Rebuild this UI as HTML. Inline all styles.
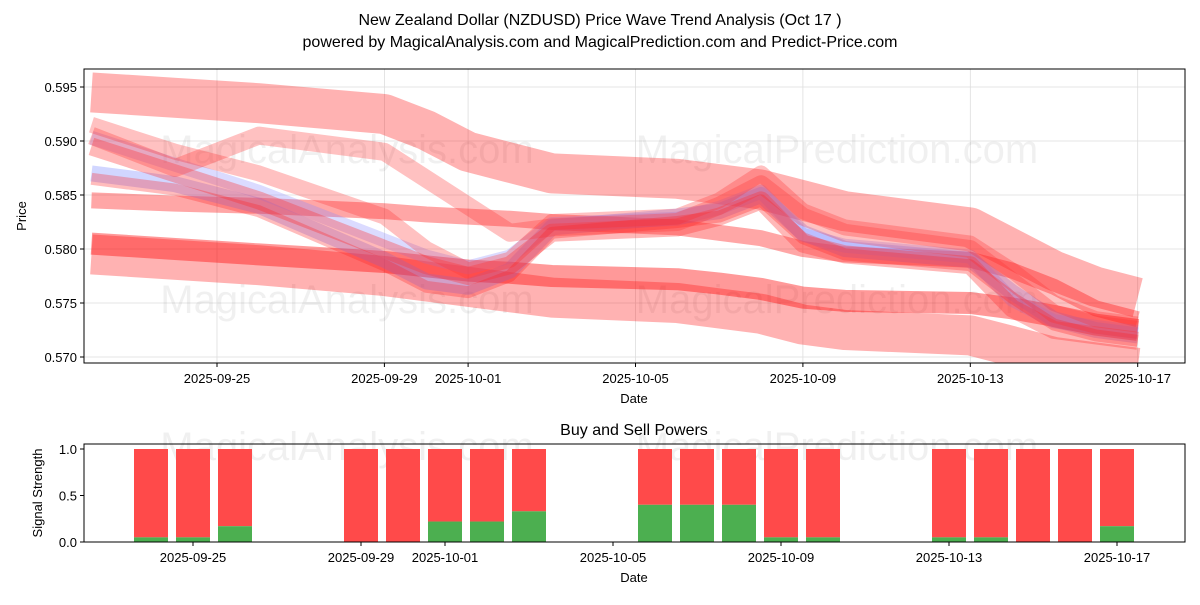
<!DOCTYPE html>
<html><head><meta charset="utf-8"><style>
body{margin:0;background:#fff;font-family:"Liberation Sans",sans-serif;}
svg text{font-family:"Liberation Sans",sans-serif;}
</style></head><body>
<svg id="c" width="1200" height="600" xmlns="http://www.w3.org/2000/svg">
<text x="600" y="25" text-anchor="middle" font-size="16">New Zealand Dollar (NZDUSD) Price Wave Trend Analysis (Oct 17 )</text>
<text x="600" y="47" text-anchor="middle" font-size="16">powered by MagicalAnalysis.com and MagicalPrediction.com and Predict-Price.com</text>
<g id="topPanel"></g>
<g id="botPanel"></g>
</svg>
<script>
const xTickLabels=["2025-09-25","2025-09-29","2025-10-01","2025-10-05","2025-10-09","2025-10-13","2025-10-17"];
const yTickVals=[0.570,0.575,0.580,0.585,0.590,0.595];
const waveDates=["2025-09-22","2025-09-24","2025-09-26","2025-09-29","2025-09-30","2025-10-01","2025-10-02","2025-10-03","2025-10-06","2025-10-07","2025-10-08","2025-10-09","2025-10-10","2025-10-13","2025-10-14","2025-10-15","2025-10-16","2025-10-17"];
const bandTop=[0.5945,0.5940,0.5935,0.5925,0.5910,0.5890,0.5880,0.5870,0.5865,0.5860,0.5855,0.5845,0.5835,0.5820,0.5800,0.5780,0.5765,0.5755];
const bandLow=[0.5795,0.5790,0.5785,0.5775,0.5770,0.5765,0.5760,0.5755,0.5750,0.5745,0.5740,0.5730,0.5725,0.5720,0.5710,0.5700,0.5695,0.5690];
const bandMid=[0.5845,0.5842,0.5840,0.5835,0.5832,0.5830,0.5828,0.5825,0.5820,0.5815,0.5810,0.5800,0.5795,0.5790,0.5780,0.5765,0.5745,0.5735];
const bandMid2=[0.5805,0.5800,0.5795,0.5788,0.5784,0.5780,0.5778,0.5775,0.5772,0.5768,0.5763,0.5755,0.5752,0.5750,0.5745,0.5738,0.5730,0.5725];
const waveA=[0.5895,0.5870,0.5845,0.5800,0.5785,0.5775,0.5785,0.5815,0.5820,0.5830,0.5845,0.5805,0.5795,0.5785,0.5745,0.5725,0.5720,0.5715];
const waveB=[0.5870,0.5860,0.5840,0.5790,0.5770,0.5765,0.5780,0.5820,0.5830,0.5835,0.5850,0.5815,0.5800,0.5790,0.5760,0.5735,0.5725,0.5720];
const waveC=[0.5905,0.5875,0.5905,0.5890,0.5865,0.5840,0.5815,0.5820,0.5825,0.5840,0.5860,0.5830,0.5815,0.5800,0.5770,0.5740,0.5730,0.5725];
const waveD=[0.5915,0.5890,0.5870,0.5830,0.5800,0.5780,0.5790,0.5825,0.5830,0.5845,0.5870,0.5835,0.5820,0.5805,0.5780,0.5750,0.5735,0.5730];
const barDates=["2025-09-24","2025-09-25","2025-09-26","2025-09-29","2025-09-30","2025-10-01","2025-10-02","2025-10-03","2025-10-06","2025-10-07","2025-10-08","2025-10-09","2025-10-10","2025-10-13","2025-10-14","2025-10-15","2025-10-16","2025-10-17"];
const buyPower=[0.05,0.05,0.17,0,0,0.22,0.22,0.33,0.4,0.4,0.4,0.05,0.05,0.05,0.05,0,0,0.17];
const NS="http://www.w3.org/2000/svg";
function el(t,a,p){const e=document.createElementNS(NS,t);for(const k in a)e.setAttribute(k,a[k]);p.appendChild(e);return e;}
const day=d=>Date.UTC(+d.slice(0,4),+d.slice(5,7)-1,+d.slice(8,10))/864e5;
const d0=day("2025-09-25");
const xTop=d=>217+(day(d)-d0)*41.85;
const yTop=v=>357-(v-0.570)/0.005*54;
const xBot=d=>193+(day(d)-d0)*42;
const yBot=v=>542-v*93;
const topG=document.getElementById('topPanel'),botG=document.getElementById('botPanel');
el('rect',{x:84,y:69,width:1101,height:294,fill:'#fff'},topG);
const cp=el('clipPath',{id:'cp'},topG);el('rect',{x:84,y:69,width:1101,height:294},cp);
xTickLabels.forEach(t=>{const x=xTop(t);
 let g=el('line',{x1:x,x2:x,y1:69,y2:363,stroke:'#ddd','stroke-width':0.8},topG);
 
 
 el('line',{x1:x,x2:x,y1:363,y2:367,stroke:'#000'},topG);
 let tx=el('text',{x:x,y:383,'text-anchor':'middle','font-size':13},topG);tx.textContent=t;
 
 });
yTickVals.forEach(v=>{const y=yTop(v);
 el('line',{x1:84,x2:1185,y1:y,y2:y,stroke:'#ddd','stroke-width':0.8},topG);
 el('line',{x1:80,x2:84,y1:y,y2:y,stroke:'#000'},topG);
 let tx=el('text',{x:77,y:y+5,'text-anchor':'end','font-size':13},topG);tx.textContent=v.toFixed(3);
 
 });
[[347,163,'MagicalAnalysis.com'],[837,163,'MagicalPrediction.com'],[347,313,'MagicalAnalysis.com'],[837,313,'MagicalPrediction.com']].forEach(w=>{
 const t=el('text',{x:w[0],y:w[1],'text-anchor':'middle','font-size':40,fill:'#000','fill-opacity':0.06},topG);t.textContent=w[2];
 
 });
const marks=el('g',{'clip-path':'url(#cp)'},topG);
function band(vals,w,col,op,name,off){
 const pts=waveDates.map((d,i)=>xTop(d)+','+yTop(vals[i]+(off||0))).join(' ');
 const p=el('polyline',{points:pts,fill:'none',stroke:col,'stroke-width':w,'stroke-opacity':op,'stroke-linejoin':'round'},marks);
 
 }
band(bandTop,40,'#ff0000',0.3,'upper-band');
band(bandLow,40,'#ff0000',0.3,'lower-band');
band(bandMid,16,'#ff0000',0.35,'mid-band');
band(bandMid2,22,'#ff0000',0.4,'mid-band-2');
band(waveB,16,'#6677ff',0.3,'wave-blue');
band(waveA,14,'#8888ff',0.3,'wave-blue-2',0.0008);
band(waveC,18,'#ff3333',0.3,'wave-red-upper');
band(waveD,16,'#ff3333',0.3,'wave-red');
band(waveA,18,'#ff3333',0.35,'wave-red-main');
band(waveB,12,'#ff2222',0.3,'wave-red-inner',-0.0005);
el('rect',{x:84,y:69,width:1101,height:294,fill:'none',stroke:'#000','stroke-width':1},topG);
let t=el('text',{x:634,y:403,'text-anchor':'middle','font-size':13},topG);t.textContent='Date';
t=el('text',{x:26,y:216,'text-anchor':'middle','font-size':13,transform:'rotate(-90 26 216)'},topG);t.textContent='Price';
let bt=el('text',{x:634,y:435,'text-anchor':'middle','font-size':16},botG);bt.textContent='Buy and Sell Powers';
[[347,460,'MagicalAnalysis.com'],[837,460,'MagicalPrediction.com']].forEach(w=>{
 const t=el('text',{x:w[0],y:w[1],'text-anchor':'middle','font-size':40,fill:'#000','fill-opacity':0.06},botG);t.textContent=w[2];});
[0,0.5,1].forEach(v=>{const y=yBot(v);
 el('line',{x1:80,x2:84,y1:y,y2:y,stroke:'#000'},botG);
 let tx=el('text',{x:77,y:y+5,'text-anchor':'end','font-size':13},botG);tx.textContent=v.toFixed(1);});
barDates.forEach((d,i)=>{const x=xBot(d)-17;
 const r=el('rect',{x:x,y:yBot(1),width:34,height:yBot(buyPower[i])-yBot(1),fill:'#ff4a4a'},botG);
 
 
 const g=el('rect',{x:x,y:yBot(buyPower[i]),width:34,height:yBot(0)-yBot(buyPower[i]),fill:'#4caf50'},botG);
 
 });
xTickLabels.forEach(l=>{const x=xBot(l);
 el('line',{x1:x,x2:x,y1:542,y2:546,stroke:'#000'},botG);
 let tx=el('text',{x:x,y:562,'text-anchor':'middle','font-size':13},botG);tx.textContent=l;});
el('rect',{x:84,y:444,width:1101,height:98,fill:'none',stroke:'#000'},botG);
t=el('text',{x:634,y:582,'text-anchor':'middle','font-size':13},botG);t.textContent='Date';
t=el('text',{x:42,y:493,'text-anchor':'middle','font-size':13,transform:'rotate(-90 42 493)'},botG);t.textContent='Signal Strength';
</script>
</body></html>
